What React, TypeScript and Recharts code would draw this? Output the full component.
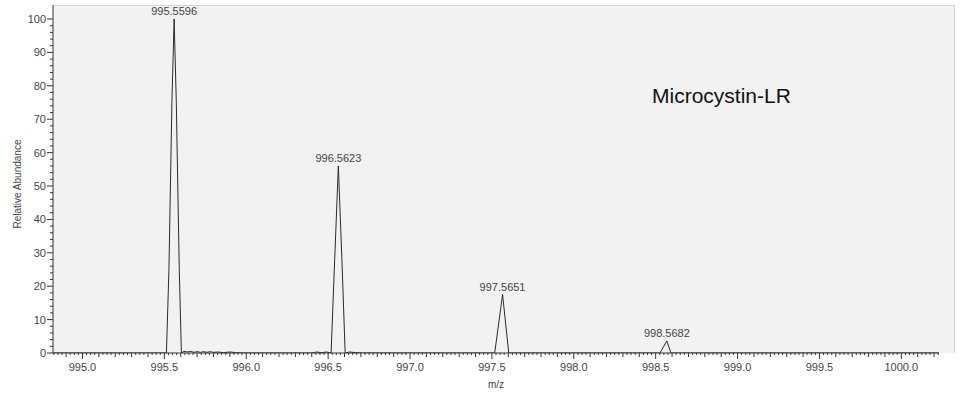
import React from "react";
import { Line, LineChart, ReferenceDot, XAxis, YAxis } from "recharts";

// profile spectrum
const mzValues = [
  994.82, 995.5, 995.5125, 995.528, 995.546, 995.5596, 995.573, 995.591, 995.604,
  995.62, 995.64, 995.66, 995.68, 995.7, 995.72, 995.74, 995.76, 995.78, 995.8, 995.83, 995.86, 995.9, 995.94, 995.98,
  996.4, 996.43, 996.46, 996.49, 996.518, 996.540, 996.5623, 996.584, 996.604,
  996.63, 996.67, 996.71, 997.5, 997.517, 997.5651, 997.603,
  998.526, 998.5682, 998.593, 1000.23,
];
const intensityValues = [
  0, 0, 0, 25, 75, 100, 75, 25, 0,
  0.5, 0.3, 0.5, 0.2, 0.4, 0.2, 0.4, 0.2, 0.4, 0.2, 0.3, 0.1, 0.3, 0.1, 0,
  0, 0.3, 0.1, 0.3, 0, 28, 56, 28, 0,
  0.3, 0.1, 0, 0, 0, 17.5, 0,
  0, 3.6, 0, 0,
];

const peakMz = [995.5596, 996.5623, 997.5651, 998.5682];
const peakHeights = [100, 56, 17.5, 3.6];
const peakLabels = ["995.5596", "996.5623", "997.5651", "998.5682"];

const xMajorTicks = [995.0, 995.5, 996.0, 996.5, 997.0, 997.5, 998.0, 998.5, 999.0, 999.5, 1000.0];
const yMajorTicks = [0, 10, 20, 30, 40, 50, 60, 70, 80, 90, 100];

const spectrum = mzValues.map((mz, i) => ({ mz, intensity: intensityValues[i] }));

// minor ticks every 0.025 on x, every 2 on y
const xTicks: number[] = [];
for (let k = 39793; k <= 40009; k++) xTicks.push(k / 40);
const yTicks: number[] = [];
for (let v = 0; v <= 100; v += 2) yTicks.push(v);

const FONT = "'Liberation Sans', Arial, sans-serif";
const INK = "#333";

function XTick(props: any) {
  const { x, y, payload } = props;
  const k = Math.round(payload.value * 40);
  const major = xMajorTicks.some((t) => Math.round(t * 40) === k);
  const len = major ? 6 : k % 4 === 0 ? 4 : 2;
  return (
    <g>
      <line x1={x} x2={x} y1={y} y2={y + len} stroke={INK} strokeWidth={1} />
      {major && (
        <text x={x} y={y + 18} textAnchor="middle" fontSize={11} fill="#444" fontFamily={FONT}>
          {payload.value.toFixed(1)}
        </text>
      )}
    </g>
  );
}

function YTick(props: any) {
  const { x, y, payload } = props;
  const major = yMajorTicks.includes(payload.value);
  return (
    <g>
      <line x1={x - (major ? 6 : 3)} x2={x} y1={y} y2={y} stroke={INK} strokeWidth={1} />
      {major && (
        <text x={x - 7} y={y + 4} textAnchor="end" fontSize={11} fill="#444" fontFamily={FONT}>
          {payload.value}
        </text>
      )}
    </g>
  );
}

function XTitle() {
  return (
    <text x={496} y={388} textAnchor="middle" fontSize={10} fill="#444" fontFamily={FONT}>
      m/z
    </text>
  );
}

function YTitle() {
  return (
    <text
      x={21}
      y={184}
      transform="rotate(-90 21 184)"
      textAnchor="middle"
      fontSize={10}
      fill="#444"
      fontFamily={FONT}
    >
      Relative Abundance
    </text>
  );
}

export default function App() {
  return (
    <div style={{ position: "relative", width: 962, height: 396, fontFamily: FONT, background: "#fff" }}>
      <style>{"body{margin:0}"}</style>
      <div
        style={{
          position: "absolute",
          left: 53,
          top: 5,
          width: 902,
          height: 348,
          background: "#f2f2f2",
          borderTop: "1px solid #d8d8d8",
          borderRight: "1px solid #d8d8d8",
          boxSizing: "border-box",
        }}
      />
      <div
        style={{
          position: "absolute",
          left: 652,
          top: 85,
          fontSize: 21,
          lineHeight: 1,
          color: "#111",
          whiteSpace: "nowrap",
        }}
      >
        Microcystin-LR
      </div>
      <div style={{ position: "absolute", left: 0, top: 0 }}>
        <LineChart width={962} height={396} data={spectrum} margin={{ top: 5, right: 23, left: 0, bottom: 13 }}>
          <XAxis
            dataKey="mz"
            type="number"
            domain={[994.82, 1000.23]}
            allowDataOverflow
            ticks={xTicks}
            interval={0}
            tickLine={false}
            tickSize={0}
            tickMargin={0}
            tick={<XTick />}
            axisLine={{ stroke: INK }}
            height={30}
            label={<XTitle />}
          />
          <YAxis
            type="number"
            domain={[0, 104.2]}
            allowDataOverflow
            ticks={yTicks}
            interval={0}
            tickLine={false}
            tickSize={0}
            tickMargin={0}
            tick={<YTick />}
            axisLine={{ stroke: INK }}
            width={53}
            label={<YTitle />}
          />
          <Line
            type="linear"
            dataKey="intensity"
            stroke="#2b2b2b"
            strokeWidth={1}
            dot={false}
            activeDot={false}
            isAnimationActive={false}
          />
          {peakMz.map((mz, i) => (
            <ReferenceDot
              key={peakLabels[i]}
              x={mz}
              y={peakHeights[i]}
              r={0}
              fill="none"
              stroke="none"
              ifOverflow="visible"
              label={{ value: peakLabels[i], position: "top", offset: 4, fontSize: 11, fill: "#444", fontFamily: FONT }}
            />
          ))}
        </LineChart>
      </div>
    </div>
  );
}
